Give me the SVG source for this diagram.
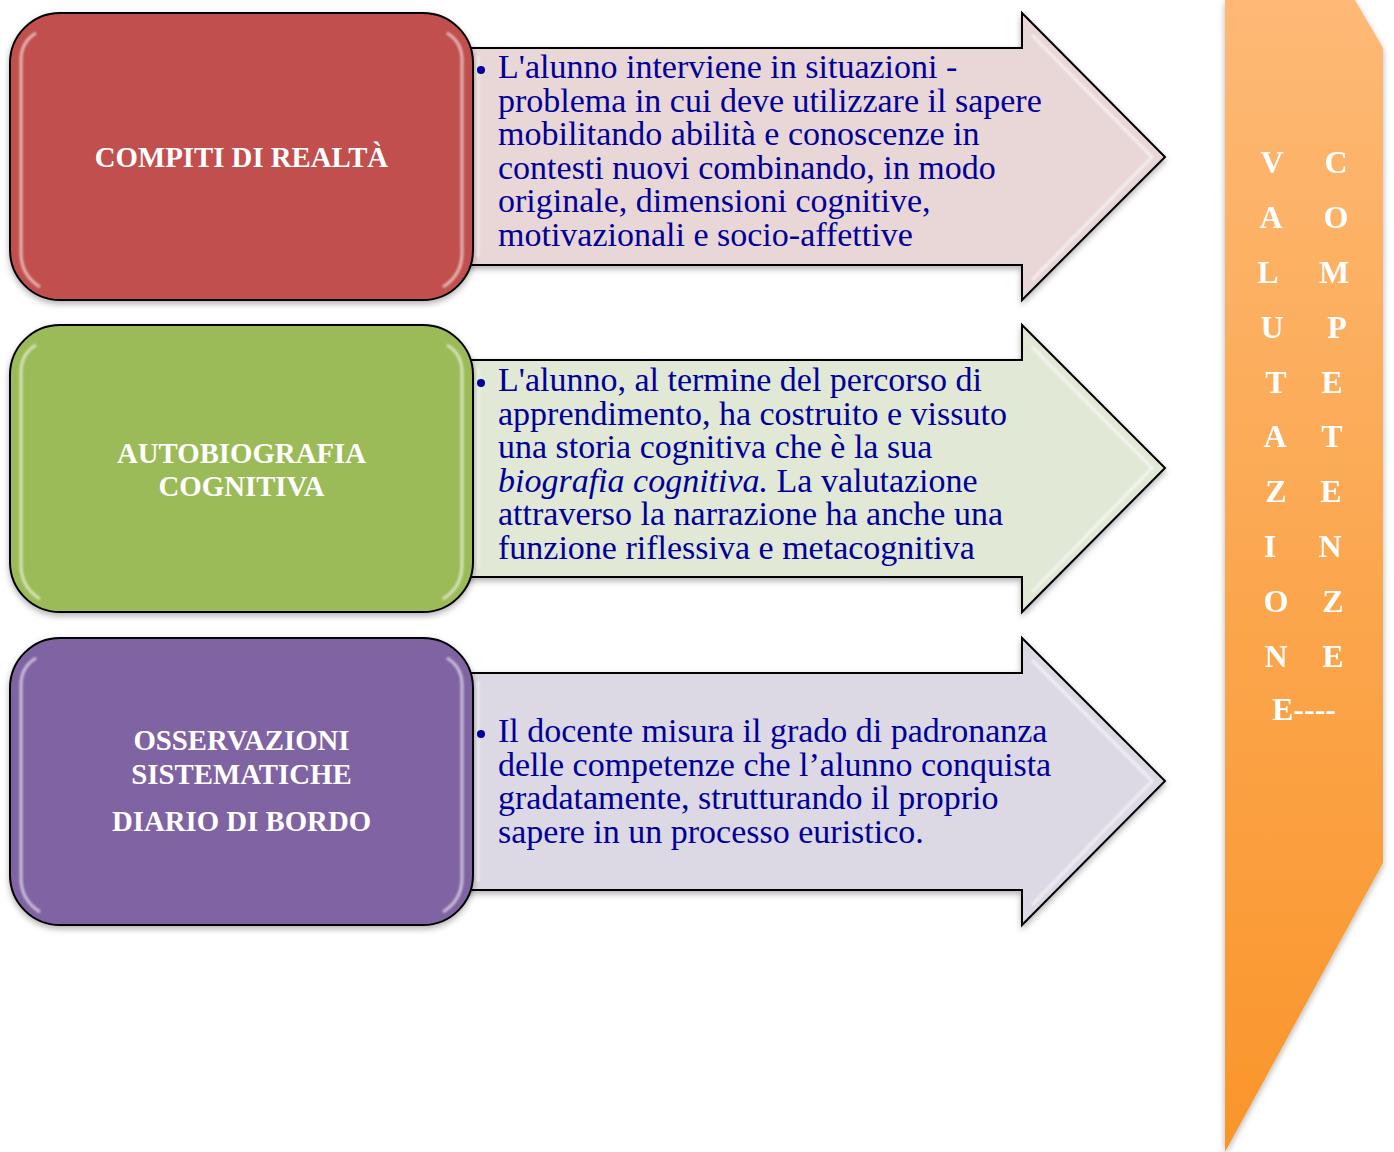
<svg xmlns="http://www.w3.org/2000/svg" width="1394" height="1152" viewBox="0 0 1394 1152">
<style>
.box{stroke:#000;stroke-width:2}
.arrow{stroke:#000;stroke-width:2}
.gloss{fill:none;stroke:#fff;stroke-width:3;stroke-opacity:0.6}
.btxt{font-family:"Liberation Serif","DejaVu Serif",serif;font-weight:bold;font-size:28.8px;fill:#fff;text-anchor:middle}
.atxt{font-family:"Liberation Serif","DejaVu Serif",serif;font-size:34px;fill:#000099}
.vtxt{font-family:"Liberation Serif","DejaVu Serif",serif;font-weight:bold;font-size:32px;fill:#fff;text-anchor:middle}
.bullet{fill:#000099}
</style>
<defs>
<filter id="shadow" x="-10%" y="-10%" width="120%" height="130%">
<feDropShadow dx="0" dy="3" stdDeviation="3" flood-color="#000" flood-opacity="0.3"/>
</filter>
<filter id="blur" x="-5%" y="-5%" width="110%" height="110%">
<feGaussianBlur stdDeviation="1.2"/>
</filter>
<linearGradient id="orange" x1="0" y1="0" x2="0" y2="1">
<stop offset="0" stop-color="#FDB975"/>
<stop offset="1" stop-color="#FA952A"/>
</linearGradient>
</defs>

<g id="banner" filter="url(#shadow)">
<polygon points="1225,0 1355,0 1383,48 1383,863 1225,1152" fill="url(#orange)"/>
<g class="vtxt">
<text x="1272" y="173">V</text><text x="1336" y="173">C</text>
<text x="1271" y="228">A</text><text x="1336" y="228">O</text>
<text x="1268" y="283">L</text><text x="1334" y="283">M</text>
<text x="1272" y="338">U</text><text x="1337" y="338">P</text>
<text x="1276" y="393">T</text><text x="1332" y="393">E</text>
<text x="1275" y="447">A</text><text x="1332" y="447">T</text>
<text x="1276" y="502">Z</text><text x="1331" y="502">E</text>
<text x="1270" y="557">I</text><text x="1330" y="557">N</text>
<text x="1276" y="612">O</text><text x="1333" y="612">Z</text>
<text x="1276" y="667">N</text><text x="1333" y="667">E</text>
<text x="1304" y="720">E----</text>
</g>
</g>

<g id="connectors">
<g id="arrow1">
<path class="arrow" filter="url(#shadow)" d="M450,48 L1022,48 L1022,13 L1165,157 L1022,300 L1022,265 L450,265 Z" fill="#E9D6D6"/>
<path class="gloss" filter="url(#blur)" d="M478,56 L478,257 M1032,35 L1152,157 L1032,280"/>
<circle class="bullet" cx="481" cy="70" r="4"/>
<g class="atxt">
<text x="498" y="78">L'alunno interviene in situazioni -</text>
<text x="498" y="111.6">problema in cui deve utilizzare il sapere</text>
<text x="498" y="145.2">mobilitando abilità e conoscenze in</text>
<text x="498" y="178.8">contesti nuovi combinando, in modo</text>
<text x="498" y="212.4">originale, dimensioni cognitive,</text>
<text x="498" y="246">motivazionali e socio-affettive</text>
</g>
</g>
<g id="arrow2">
<path class="arrow" filter="url(#shadow)" d="M450,360 L1022,360 L1022,325 L1165,468 L1022,612 L1022,577 L450,577 Z" fill="#E1E8D6"/>
<path class="gloss" filter="url(#blur)" d="M478,368 L478,569 M1032,347 L1152,468 L1032,592"/>
<circle class="bullet" cx="481" cy="383" r="4"/>
<g class="atxt">
<text x="498" y="391">L'alunno, al termine del percorso di</text>
<text x="498" y="424.6">apprendimento, ha costruito e vissuto</text>
<text x="498" y="458.2">una storia cognitiva che è la sua</text>
<text x="498" y="491.8"><tspan font-style="italic">biografia cognitiva.</tspan> La valutazione</text>
<text x="498" y="525.4">attraverso la narrazione ha anche una</text>
<text x="498" y="559">funzione riflessiva e metacognitiva</text>
</g>
</g>
<g id="arrow3">
<path class="arrow" filter="url(#shadow)" d="M450,673 L1022,673 L1022,638 L1165,781 L1022,925 L1022,890 L450,890 Z" fill="#DCD8E4"/>
<path class="gloss" filter="url(#blur)" d="M478,681 L478,882 M1032,660 L1152,781 L1032,905"/>
<circle class="bullet" cx="481" cy="734" r="4"/>
<g class="atxt">
<text x="498" y="742">Il docente misura il grado di padronanza</text>
<text x="498" y="775.6">delle competenze che l’alunno conquista</text>
<text x="498" y="809.2">gradatamente, strutturando  il proprio</text>
<text x="498" y="842.8">sapere in un processo euristico.</text>
</g>
</g>
</g>

<g id="box1">
<rect class="box" filter="url(#shadow)" x="10" y="13" width="463" height="287" rx="50" fill="#C0504D"/>
<path class="gloss" filter="url(#blur)" d="M36,33 Q21,42 21,60 L21,253 Q21,275 40,287 M447,33 Q462,42 462,60 L462,253 Q462,275 443,287"/>
<text class="btxt" x="241.5" y="167">COMPITI DI REALTÀ</text>
</g>
<g id="box2">
<rect class="box" filter="url(#shadow)" x="10" y="325" width="463" height="287" rx="50" fill="#9BBB59"/>
<path class="gloss" filter="url(#blur)" d="M36,345 Q21,354 21,372 L21,565 Q21,587 40,599 M447,345 Q462,354 462,372 L462,565 Q462,587 443,599"/>
<text class="btxt" x="241.5" y="463">AUTOBIOGRAFIA</text>
<text class="btxt" x="241.5" y="496">COGNITIVA</text>
</g>
<g id="box3">
<rect class="box" filter="url(#shadow)" x="10" y="638" width="463" height="287" rx="50" fill="#8064A2"/>
<path class="gloss" filter="url(#blur)" d="M36,658 Q21,667 21,685 L21,878 Q21,900 40,912 M447,658 Q462,667 462,685 L462,878 Q462,900 443,912"/>
<text class="btxt" x="241.5" y="750">OSSERVAZIONI</text>
<text class="btxt" x="241.5" y="784">SISTEMATICHE</text>
<text class="btxt" x="241.5" y="831">DIARIO DI BORDO</text>
</g>
</svg>
